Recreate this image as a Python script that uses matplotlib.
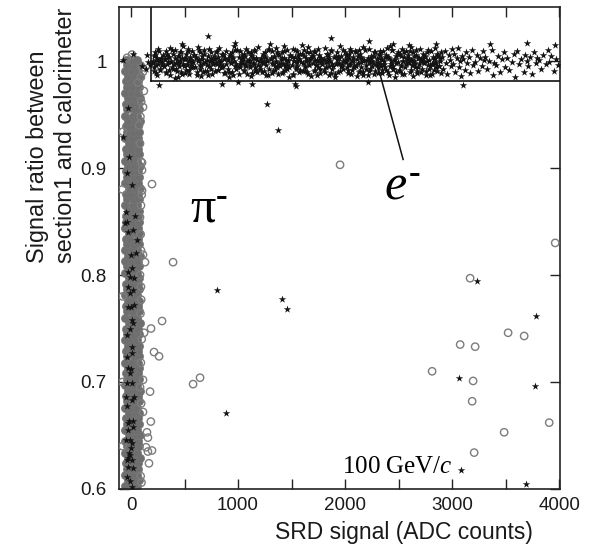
import matplotlib
matplotlib.use('Agg')
import matplotlib.pyplot as plt
from matplotlib.ticker import FixedLocator, FixedFormatter

plt.rcParams['font.family'] = ['Liberation Sans', 'DejaVu Sans']
plt.rcParams['mathtext.fontset'] = 'custom'
plt.rcParams['mathtext.rm'] = 'Liberation Serif:bold'
plt.rcParams['mathtext.sf'] = 'Liberation Serif'
plt.rcParams['mathtext.it'] = 'Liberation Serif:italic'

# ---------------- data ----------------
x_ticks = [0, 1000, 2000, 3000, 4000]
x_minor = [500, 1500, 2500, 3500]
y_ticks = [0.6, 0.7, 0.8, 0.9, 1.0]
y_ticklabels = ['0.6', '0.7', '0.8', '0.9', '1']

cut_x = 187      # SRD cut
cut_y = 0.981    # section1 / calorimeter cut

# dense pion band (grey circles near zero SRD signal)
pion_core_y = [
    0.603, 0.603, 0.603, 0.608, 0.608, 0.608, 0.613, 0.613, 0.613, 0.619, 0.619, 0.619,
    0.624, 0.624, 0.624, 0.629, 0.629, 0.629, 0.634, 0.634, 0.634, 0.640, 0.640, 0.640,
    0.645, 0.645, 0.645, 0.650, 0.650, 0.650, 0.655, 0.655, 0.655, 0.661, 0.661, 0.661,
    0.666, 0.666, 0.666, 0.671, 0.671, 0.671, 0.676, 0.676, 0.676, 0.682, 0.682, 0.682,
    0.687, 0.687, 0.687, 0.692, 0.692, 0.692, 0.697, 0.697, 0.697, 0.703, 0.703, 0.703,
    0.708, 0.708, 0.708, 0.713, 0.713, 0.713, 0.718, 0.718, 0.718, 0.724, 0.724, 0.724,
    0.729, 0.729, 0.729, 0.734, 0.734, 0.734, 0.739, 0.739, 0.739, 0.745, 0.745, 0.745,
    0.750, 0.750, 0.750, 0.755, 0.755, 0.755, 0.760, 0.760, 0.760, 0.766, 0.766, 0.766,
    0.771, 0.771, 0.771, 0.776, 0.776, 0.776, 0.781, 0.781, 0.781, 0.787, 0.787, 0.787,
    0.792, 0.792, 0.792, 0.797, 0.797, 0.797, 0.802, 0.802, 0.802, 0.808, 0.808, 0.808,
    0.813, 0.813, 0.813, 0.818, 0.818, 0.818, 0.823, 0.823, 0.823, 0.829, 0.829, 0.829,
    0.834, 0.834, 0.834, 0.839, 0.839, 0.839, 0.844, 0.844, 0.844, 0.850, 0.850, 0.850,
    0.855, 0.855, 0.855, 0.860, 0.860, 0.860, 0.865, 0.865, 0.865, 0.871, 0.871, 0.871,
    0.876, 0.876, 0.876, 0.881, 0.881, 0.881, 0.886, 0.886, 0.886, 0.892, 0.892, 0.892,
    0.897, 0.897, 0.897, 0.902, 0.902, 0.902, 0.907, 0.907, 0.907, 0.913, 0.913, 0.913,
    0.918, 0.918, 0.918, 0.923, 0.923, 0.923, 0.928, 0.928, 0.928, 0.934, 0.934, 0.934,
    0.939, 0.939, 0.939, 0.944, 0.944, 0.944, 0.949, 0.949, 0.949, 0.955, 0.955, 0.955,
    0.960, 0.960, 0.960, 0.965, 0.965, 0.965, 0.970, 0.970, 0.970, 0.976, 0.976, 0.976,
    0.981, 0.981, 0.981, 0.986, 0.986, 0.986, 0.991, 0.991, 0.991, 0.996, 0.996, 0.996,
    1.001, 1.001, 1.001,
]
pion_core_x = [
    -55, 5, 60, -30, 35, 78, -58, 10, 55, -40, 28, 70,
    -50, -2, 62, -25, 40, 80, -56, 12, 58, -38, 25, 72,
    -52, 0, 65, -20, 38, 82, -57, 15, 60, -35, 30, 74,
    -48, -5, 66, -22, 42, 78, -55, 8, 57, -40, 22, 73,
    -50, 3, 63, -28, 36, 80, -56, 14, 59, -36, 27, 71,
    -49, -3, 64, -24, 40, 77, -54, 10, 61, -42, 24, 75,
    -51, 2, 66, -27, 37, 79, -57, 13, 58, -37, 29, 72,
    -47, -4, 63, -23, 41, 81, -53, 9, 60, -41, 23, 74,
    -50, 4, 67, -29, 35, 78, -56, 16, 59, -35, 28, 73,
    -48, -2, 65, -21, 43, 79, -55, 11, 60, -39, 21, 76,
    -52, 5, 64, -26, 38, 80, -57, 12, 57, -34, 30, 71,
    -46, -6, 66, -22, 44, 77, -54, 7, 62, -43, 20, 74,
    -49, 3, 68, -28, 34, 79, -56, 17, 58, -36, 26, 72,
    -47, -1, 64, -20, 42, 80, -53, 8, 61, -40, 25, 75,
    -51, 6, 65, -25, 39, 81, -58, 14, 57, -33, 31, 73,
    -45, -4, 67, -23, 40, 78, -55, 10, 63, -42, 22, 76,
    -48, 2, 66, -27, 36, 82, -56, 15, 60, -35, 28, 74,
    -50, -3, 65, -24, 41, 84, -54, 9, 62, -38, 23, 78,
    -49, 4, 68, -26, 37, 85, -55, 12, 64, -36, 26, 80,
    -45, 5, 60,
]

# open-circle pions away from the dense band
pion_x = [196, 393, 112, 103, 290, 187, 122, 215, 262, 580, 645, 178, 185, 149, 158,
          140, 158, 196, 168, 112, 112, 1953, 3963, 3168, 3523, 3673, 3075, 3215, 2813,
          3196, 3187, 3907, 3486, 3206,
          75, 93, 84, 103, 103, 93, 84, -75, 112, 131, 93, 84, 93, 103, 112, 93, 65,
          9, -37, 120, 95, 88, 100, 90, 95, 88, 100, 92, 85, 95, 90, 98, -80, -78, -80, -79]
pion_y = [0.885, 0.812, 0.957, 0.905, 0.757, 0.750, 0.746, 0.728, 0.724, 0.698, 0.704,
          0.691, 0.663, 0.653, 0.648, 0.639, 0.635, 0.636, 0.624, 0.672, 0.702, 0.903,
          0.830, 0.797, 0.746, 0.743, 0.735, 0.733, 0.710, 0.701, 0.682, 0.662, 0.653, 0.634,
          0.940, 0.906, 0.923, 0.898, 0.879, 0.865, 0.854, 0.934, 0.819, 0.812, 0.823,
          0.800, 0.789, 0.994, 0.990, 0.985, 0.980, 1.006, 1.003, 0.972, 0.962, 0.948,
          0.875, 0.838, 0.777, 0.764, 0.740, 0.718, 0.695, 0.680, 0.612, 0.606,
          0.880, 0.780, 0.700, 0.640]

# electron band (stars at ratio ~1)
e_x = [
    204, 212, 217, 225, 233, 238, 246, 255, 261, 270, 279, 288,
    302, 309, 318, 324, 331, 340, 347, 353, 364, 372, 380, 393,
    406, 414, 421, 429, 436, 444, 451, 459, 467, 476, 484, 495,
    504, 512, 517, 525, 533, 538, 546, 555, 561, 570, 579, 588,
    602, 609, 618, 624, 631, 640, 647, 653, 664, 672, 680, 693,
    706, 714, 721, 729, 736, 744, 751, 759, 767, 776, 784, 795,
    804, 812, 817, 825, 833, 838, 846, 855, 861, 870, 879, 888,
    902, 909, 918, 924, 931, 940, 947, 953, 964, 972, 980, 993,
    1006, 1014, 1021, 1029, 1036, 1044, 1051, 1059, 1067, 1076, 1084, 1095,
    1104, 1112, 1117, 1125, 1133, 1138, 1146, 1155, 1161, 1170, 1179, 1188,
    1202, 1209, 1218, 1224, 1231, 1240, 1247, 1253, 1264, 1272, 1280, 1293,
    1306, 1314, 1321, 1329, 1336, 1344, 1351, 1359, 1367, 1376, 1384, 1395,
    1404, 1412, 1417, 1425, 1433, 1438, 1446, 1455, 1461, 1470, 1479, 1488,
    1502, 1509, 1518, 1524, 1531, 1540, 1547, 1553, 1564, 1572, 1580, 1593,
    1606, 1614, 1621, 1629, 1636, 1644, 1651, 1659, 1667, 1676, 1684, 1695,
    1704, 1712, 1717, 1725, 1733, 1738, 1746, 1755, 1761, 1770, 1779, 1788,
    1802, 1809, 1818, 1824, 1831, 1840, 1847, 1853, 1864, 1872, 1880, 1893,
    1906, 1914, 1921, 1929, 1936, 1944, 1951, 1959, 1967, 1976, 1984, 1995,
    2004, 2012, 2017, 2025, 2033, 2038, 2046, 2055, 2061, 2070, 2079, 2088,
    2102, 2109, 2118, 2124, 2131, 2140, 2147, 2153, 2164, 2172, 2180, 2193,
    2206, 2214, 2221, 2229, 2236, 2244, 2251, 2259, 2267, 2276, 2284, 2295,
    2304, 2312, 2317, 2325, 2333, 2338, 2346, 2355, 2361, 2370, 2379, 2388,
    2402, 2409, 2418, 2424, 2431, 2440, 2447, 2453, 2464, 2472, 2480, 2493,
    2506, 2514, 2521, 2529, 2536, 2544, 2551, 2559, 2567, 2576, 2584, 2595,
    2604, 2612, 2617, 2625, 2633, 2638, 2646, 2655, 2661, 2670, 2679, 2688,
    2702, 2709, 2718, 2724, 2731, 2740, 2747, 2753, 2764, 2772, 2780, 2793,
    2806, 2814, 2821, 2829, 2836, 2844, 2851, 2859, 2867, 2876, 2884, 2895,
    2905, 2918, 2930, 2944, 2956, 2967, 2979, 2988, 2996,
    3008, 3019, 3027, 3041, 3052, 3066, 3074, 3083, 3095,
    3104, 3117, 3129, 3142, 3158, 3171, 3183, 3196,
    3210, 3228, 3245, 3262, 3277, 3290, 3298,
    3305, 3324, 3347, 3368, 3381, 3395,
    3412, 3431, 3450, 3466, 3483, 3497,
    3508, 3529, 3556, 3574, 3591,
    3604, 3622, 3641, 3667, 3680, 3695,
    3712, 3730, 3748, 3765, 3781, 3796,
    3811, 3834, 3852, 3876, 3893,
    3907, 3925, 3948, 3968, 3990,
]
e_y = [
    0.998, 1.005, 0.991, 1.008, 0.996, 1.001, 0.987, 1.011, 1.000, 0.993, 1.003, 0.999,
    1.006, 0.995, 1.002, 0.989, 1.009, 0.997, 1.004, 0.992, 1.012, 0.999, 0.994, 1.007,
    0.997, 1.010, 0.993, 1.001, 0.985, 1.005, 0.998, 1.008, 0.990, 1.003, 1.014, 0.995,
    1.002, 0.992, 1.007, 0.996, 1.011, 0.988, 1.000, 1.004, 0.994, 1.009, 0.999, 1.006,
    0.994, 1.003, 0.990, 1.013, 1.001, 0.996, 1.008, 0.986, 1.005, 0.998, 1.010, 0.991,
    0.996, 1.001, 0.987, 1.011, 1.000, 0.993, 1.003, 0.999, 0.998, 1.005, 0.991, 1.008,
    0.997, 1.004, 0.992, 1.012, 0.999, 0.994, 1.007, 1.006, 0.995, 1.002, 0.989, 1.009,
    0.993, 1.001, 0.985, 1.005, 0.998, 1.008, 0.990, 1.003, 1.014, 0.995, 0.997, 1.010,
    1.004, 0.994, 1.009, 0.999, 1.006, 1.002, 0.992, 1.007, 0.996, 1.011, 0.988, 1.000,
    1.001, 0.996, 1.008, 0.986, 1.005, 0.998, 1.010, 0.991, 0.994, 1.003, 0.990, 1.013,
    1.000, 0.993, 1.003, 0.999, 0.998, 1.005, 0.991, 1.008, 0.996, 1.001, 0.987, 1.011,
    1.002, 0.989, 1.009, 0.997, 1.004, 0.992, 1.012, 0.999, 0.994, 1.007, 1.006, 0.995,
    0.998, 1.008, 0.990, 1.003, 1.014, 0.995, 0.997, 1.010, 0.993, 1.001, 0.985, 1.005,
    0.996, 1.011, 0.988, 1.000, 1.004, 0.994, 1.009, 0.999, 1.006, 1.002, 0.992, 1.007,
    0.998, 1.010, 0.991, 0.994, 1.003, 0.990, 1.013, 1.001, 0.996, 1.008, 0.986, 1.005,
    1.005, 0.991, 1.008, 0.996, 1.001, 0.987, 1.011, 1.000, 0.993, 1.003, 0.999, 0.998,
    0.992, 1.012, 0.999, 0.994, 1.007, 1.006, 0.995, 1.002, 0.989, 1.009, 0.997, 1.004,
    0.985, 1.005, 0.998, 1.008, 0.990, 1.003, 1.014, 0.995, 0.997, 1.010, 0.993, 1.001,
    0.999, 1.006, 1.002, 0.992, 1.007, 0.996, 1.011, 0.988, 1.000, 1.004, 0.994, 1.009,
    1.008, 0.986, 1.005, 0.998, 1.010, 0.991, 0.994, 1.003, 0.990, 1.013, 1.001, 0.996,
    1.001, 0.987, 1.011, 1.000, 0.993, 1.003, 0.999, 0.998, 1.005, 0.991, 1.008, 0.996,
    0.999, 0.994, 1.007, 1.006, 0.995, 1.002, 0.989, 1.009, 0.997, 1.004, 0.992, 1.012,
    0.990, 1.003, 1.014, 0.995, 0.997, 1.010, 0.993, 1.001, 0.985, 1.005, 0.998, 1.008,
    0.992, 1.007, 0.996, 1.011, 0.988, 1.000, 1.004, 0.994, 1.009, 0.999, 1.006, 1.002,
    0.990, 1.013, 1.001, 0.996, 1.008, 0.986, 1.005, 0.998, 1.010, 0.991, 0.994, 1.003,
    1.011, 1.000, 0.993, 1.003, 0.999, 0.998, 1.005, 0.991, 1.008, 0.996, 1.001, 0.987,
    1.009, 0.997, 1.004, 0.992, 1.012, 0.999, 0.994, 1.007, 1.006, 0.995, 1.002, 0.989,
    1.004, 0.993, 1.009, 0.998, 0.988, 1.006, 1.001, 0.995, 1.011,
    0.997, 1.007, 0.990, 1.003, 1.012, 0.994, 1.000, 0.986, 1.005,
    1.002, 0.992, 1.008, 0.998, 1.004, 0.989, 1.010, 0.996,
    0.999, 1.006, 0.991, 1.003, 0.995, 1.009, 1.001,
    1.004, 0.993, 1.000, 1.010, 0.987, 0.998,
    0.996, 1.005, 0.990, 1.002, 1.008, 0.994,
    1.003, 0.992, 0.999, 1.007, 0.985,
    1.009, 0.997, 1.002, 0.990, 1.006, 1.000,
    0.995, 1.004, 0.988, 1.008, 0.998, 1.003,
    1.001, 0.993, 1.006, 0.997, 1.010,
    0.999, 1.005, 0.991, 1.002, 0.996,
]

# second, more central layer of the dense electron core
e2_x = [
    208, 215, 222, 230, 241, 249, 258, 268, 277, 286,
    305, 313, 327, 335, 344, 352, 363, 371, 382, 391,
    410, 419, 426, 438, 447, 455, 466, 474, 485, 497,
    508, 515, 522, 530, 541, 549, 558, 568, 577, 586,
    605, 613, 627, 635, 644, 652, 663, 671, 682, 691,
    710, 719, 726, 738, 747, 755, 766, 774, 785, 797,
    808, 815, 822, 830, 841, 849, 858, 868, 877, 886,
    905, 913, 927, 935, 944, 952, 963, 971, 982, 991,
    1010, 1019, 1026, 1038, 1047, 1055, 1066, 1074, 1085, 1097,
    1108, 1115, 1122, 1130, 1141, 1149, 1158, 1168, 1177, 1186,
    1205, 1213, 1227, 1235, 1244, 1252, 1263, 1271, 1282, 1291,
    1310, 1319, 1326, 1338, 1347, 1355, 1366, 1374, 1385, 1397,
    1408, 1415, 1422, 1430, 1441, 1449, 1458, 1468, 1477, 1486,
    1505, 1513, 1527, 1535, 1544, 1552, 1563, 1571, 1582, 1591,
    1610, 1619, 1626, 1638, 1647, 1655, 1666, 1674, 1685, 1697,
    1708, 1715, 1722, 1730, 1741, 1749, 1758, 1768, 1777, 1786,
    1805, 1813, 1827, 1835, 1844, 1852, 1863, 1871, 1882, 1891,
    1910, 1919, 1926, 1938, 1947, 1955, 1966, 1974, 1985, 1997,
    2008, 2015, 2022, 2030, 2041, 2049, 2058, 2068, 2077, 2086,
    2105, 2113, 2127, 2135, 2144, 2152, 2163, 2171, 2182, 2191,
    2210, 2219, 2226, 2238, 2247, 2255, 2266, 2274, 2285, 2297,
    2308, 2315, 2322, 2330, 2341, 2349, 2358, 2368, 2377, 2386,
    2405, 2413, 2427, 2435, 2444, 2452, 2463, 2471, 2482, 2491,
    2510, 2519, 2526, 2538, 2547, 2555, 2566, 2574, 2585, 2597,
    2608, 2615, 2622, 2630, 2641, 2649, 2658, 2668, 2677, 2686,
    2705, 2713, 2727, 2735, 2744, 2752, 2763, 2771, 2782, 2791,
    2810, 2819, 2826, 2838, 2847, 2855, 2866, 2874, 2885, 2897,
]
e2_y = [
    1.000, 0.994, 1.006, 0.989, 1.003, 0.997, 1.009, 0.992, 1.001, 0.996,
    0.995, 1.002, 0.990, 1.007, 0.999, 1.004, 0.987, 1.000, 1.010, 0.993,
    1.003, 0.998, 0.991, 1.005, 0.995, 1.000, 1.008, 0.988, 0.997, 1.002,
    0.989, 1.003, 0.997, 1.009, 0.992, 1.001, 0.996, 1.000, 0.994, 1.006,
    1.004, 0.987, 1.000, 1.010, 0.993, 0.995, 1.002, 0.990, 1.007, 0.999,
    0.991, 1.005, 0.995, 1.000, 1.008, 0.988, 0.997, 1.002, 1.003, 0.998,
    1.009, 0.992, 1.001, 0.996, 1.000, 0.994, 1.006, 0.989, 1.003, 0.997,
    1.002, 0.990, 1.007, 0.999, 1.004, 0.987, 1.000, 1.010, 0.993, 0.995,
    0.988, 0.997, 1.002, 1.003, 0.998, 0.991, 1.005, 0.995, 1.000, 1.008,
    1.000, 0.994, 1.006, 0.989, 1.003, 0.997, 1.009, 0.992, 1.001, 0.996,
    0.995, 1.002, 0.990, 1.007, 0.999, 1.004, 0.987, 1.000, 1.010, 0.993,
    1.003, 0.998, 0.991, 1.005, 0.995, 1.000, 1.008, 0.988, 0.997, 1.002,
    0.989, 1.003, 0.997, 1.009, 0.992, 1.001, 0.996, 1.000, 0.994, 1.006,
    1.004, 0.987, 1.000, 1.010, 0.993, 0.995, 1.002, 0.990, 1.007, 0.999,
    0.991, 1.005, 0.995, 1.000, 1.008, 0.988, 0.997, 1.002, 1.003, 0.998,
    1.009, 0.992, 1.001, 0.996, 1.000, 0.994, 1.006, 0.989, 1.003, 0.997,
    1.002, 0.990, 1.007, 0.999, 1.004, 0.987, 1.000, 1.010, 0.993, 0.995,
    0.988, 0.997, 1.002, 1.003, 0.998, 0.991, 1.005, 0.995, 1.000, 1.008,
    1.000, 0.994, 1.006, 0.989, 1.003, 0.997, 1.009, 0.992, 1.001, 0.996,
    0.995, 1.002, 0.990, 1.007, 0.999, 1.004, 0.987, 1.000, 1.010, 0.993,
    1.003, 0.998, 0.991, 1.005, 0.995, 1.000, 1.008, 0.988, 0.997, 1.002,
    0.989, 1.003, 0.997, 1.009, 0.992, 1.001, 0.996, 1.000, 0.994, 1.006,
    1.004, 0.987, 1.000, 1.010, 0.993, 0.995, 1.002, 0.990, 1.007, 0.999,
    0.991, 1.005, 0.995, 1.000, 1.008, 0.988, 0.997, 1.002, 1.003, 0.998,
    1.009, 0.992, 1.001, 0.996, 1.000, 0.994, 1.006, 0.989, 1.003, 0.997,
    1.002, 0.990, 1.007, 0.999, 1.004, 0.987, 1.000, 1.010, 0.993, 0.995,
    0.988, 0.997, 1.002, 1.003, 0.998, 0.991, 1.005, 0.995, 1.000, 1.008,
]

# other stars (inside pion band, scattered, and just outside the e band)
star_x = [19, 150, 159, 178, 140, -75, 100,
          720, 972, 1869, 2224, 1300, 2450, 2600, 2850, 3350, 3700, 3960, 480, 1600,
          850, 1000, 1131, 1533, 1542, 411, 2215, 3103, 265,
          1271, 1374, 804, 1411, 1458, 888, 3234, 3785, 3065, 3776, 3084, 3692,
          -37, 9, -47, 37, -37, 19, 56, 0, -28, -9, 19, -28, 0, 9, 19, -9, 9, -37,
          -28, 0, 9, 28, -37, -19, 19, -28, -9, 9, 0, -19, -28, -37, -28, -75, -19,
          -56, -28, 47, 9, 28, -28, -9, 28, -37, 9, -9, -37, -47, 9, -28, 19, -47,
          -9, 9, -28, 19, -37, -9, 9]
star_y = [1.007, 1.006, 0.999, 0.996, 0.993, 1.001, 0.995,
          1.023, 1.017, 1.022, 1.019, 1.016, 1.016, 1.015, 1.016, 1.016, 1.017, 1.015, 1.016, 1.015,
          0.979, 0.980, 0.979, 0.979, 0.977, 0.984, 0.980, 0.978, 0.978,
          0.960, 0.936, 0.786, 0.778, 0.768, 0.671, 0.794, 0.762, 0.704, 0.696, 0.618, 0.605,
          0.895, 0.884, 0.859, 0.855, 0.850, 0.842, 0.833, 0.819, 0.803, 0.798, 0.786, 0.770,
          0.770, 0.758, 0.755, 0.750, 0.727, 0.723,
          0.713, 0.712, 0.699, 0.686, 0.678, 0.664, 0.664, 0.655, 0.646, 0.643, 0.638, 0.634,
          0.629, 0.627, 0.956, 0.929, 0.910,
          0.849, 0.840, 0.821, 0.807, 0.797, 0.789, 0.783, 0.772, 0.744, 0.733, 0.708,
          0.699, 0.686, 0.683, 0.662, 0.658, 0.646,
          0.632, 0.627, 0.621, 0.620, 0.611, 0.607, 0.602]

# annotation leader for the electron label
e_leader_x = [2308, 2542]
e_leader_y = [0.9944, 0.908]

# ---------------- figure ----------------
fig = plt.figure(figsize=(5.93, 5.48), dpi=100)
ax = fig.add_axes([0.2007, 0.1077, 0.7437, 0.8795])

ax.scatter(pion_core_x, pion_core_y, s=34, marker='o', facecolor='#6e6e6e',
           edgecolor='#757575', linewidths=0.5, zorder=2)
ax.scatter(pion_x, pion_y, s=28, marker='o', facecolor='none',
           edgecolor='#7c7c7c', linewidths=1.0, zorder=3)
ax.scatter(e_x, e_y, s=32, marker='*', color='#141414', linewidths=0, zorder=4)
ax.scatter(e2_x, e2_y, s=32, marker='*', color='#141414', linewidths=0, zorder=4)
ax.scatter(star_x, star_y, s=32, marker='*', color='#141414', linewidths=0, zorder=4)

xmin, xmax = -112, 4008
ymin, ymax = 0.6, 1.0505
ax.set_xlim(xmin, xmax)
ax.set_ylim(ymin, ymax)

# cut lines
ax.plot([cut_x, cut_x], [cut_y, ymax], color='#111111', lw=1.2, zorder=5)
ax.plot([cut_x, xmax], [cut_y, cut_y], color='#111111', lw=1.2, zorder=5)
ax.plot(e_leader_x, e_leader_y, color='#111111', lw=1.1, zorder=5)

# labels in the plot (\text gives a short bold hyphen as in the original)
ax.text(551, 0.849, r'$\mathsf{π}^{\text{-}}$', fontsize=36, ha='left', va='baseline', zorder=6)
ax.text(2364, 0.871, r'$e^{\text{-}}$', fontsize=36, ha='left', va='baseline', zorder=6)
ax.text(1972, 0.615, r'$\mathsf{100\ GeV/}c$', fontsize=18, ha='left', va='baseline', zorder=6)

# ticks
ax.xaxis.set_major_locator(FixedLocator(x_ticks))
ax.xaxis.set_minor_locator(FixedLocator(x_minor))
ax.yaxis.set_major_locator(FixedLocator(y_ticks))
ax.yaxis.set_major_formatter(FixedFormatter(y_ticklabels))
ax.tick_params(which='both', direction='in', top=True, right=True, length=7,
               width=1.0, color='#222222')
ax.tick_params(axis='x', labelsize=13.5, pad=6, labelcolor='#1a1a1a')
ax.tick_params(axis='y', labelsize=13.5, pad=9, labelcolor='#1a1a1a')
for sp in ax.spines.values():
    sp.set_linewidth(1.2)
    sp.set_color('#222222')

ax.set_xlabel('SRD signal (ADC counts)', fontsize=16.5, ha='right', va='top', color='#1a1a1a')
ax.xaxis.set_label_coords(0.939, -0.066)
ax.set_ylabel('Signal ratio between\nsection1 and calorimeter', fontsize=16.8,
              ha='left', va='bottom', multialignment='left', linespacing=1.3, color='#1a1a1a')
ax.yaxis.set_label_coords(-0.095, 0.469)

fig.savefig('out.png', dpi=100)
